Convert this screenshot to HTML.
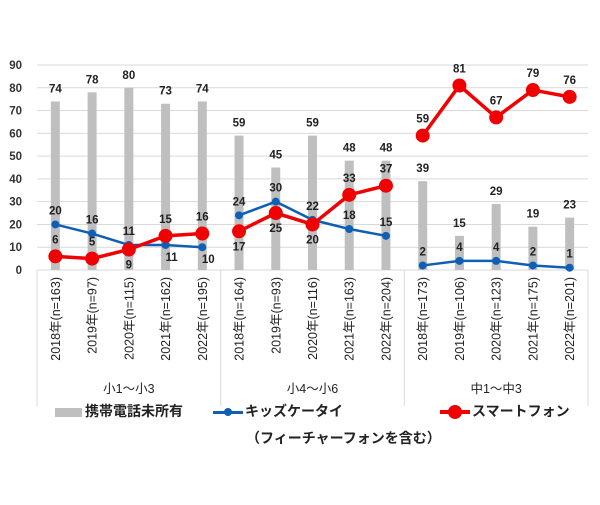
<!DOCTYPE html>
<html><head><meta charset="utf-8"><style>
body{margin:0;background:#fff;}
text{font-family:"Liberation Sans","Noto Sans CJK JP",sans-serif;}
</style></head><body>
<svg id="c" width="600" height="500"></svg>
<script>
const cats=["2018年(n=163)","2019年(n=97)","2020年(n=115)","2021年(n=162)","2022年(n=195)","2018年(n=164)","2019年(n=93)","2020年(n=116)","2021年(n=163)","2022年(n=204)","2018年(n=173)","2019年(n=106)","2020年(n=123)","2021年(n=175)","2022年(n=201)"];
const groups=["小1～小3","小4～小6","中1～中3"];
const noPhone=[74,78,80,73,74,59,45,59,48,48,39,15,29,19,23];
const kids=[20,16,11,11,10,24,30,22,18,15,2,4,4,2,1];
const smart=[6,5,9,15,16,17,25,20,33,37,59,81,67,79,76];
const kidsBelow=[0,0,0,1,1,0,0,0,0,0,0,0,0,0,0];
const smartBelow=[0,0,1,0,0,1,1,1,0,0,0,0,0,0,0];
const yTicks=[0,10,20,30,40,50,60,70,80,90];
const NS="http://www.w3.org/2000/svg";
const svg=document.getElementById('c');
const L=37,R=588,T=65,B=270;
const bw=(R-L)/cats.length;
const x=i=>L+bw*(i+0.5);
const y=v=>B-(v/90)*(B-T);
function mk(t,a,p){const e=document.createElementNS(NS,t);for(const k in a)e.setAttribute(k,a[k]);(p||svg).appendChild(e);return e;}
function tx(s,a){const e=mk('text',a);e.textContent=s;return e;}
yTicks.forEach(v=>{
 const g=mk('line',{x1:L,x2:R,y1:y(v),y2:y(v),stroke:'#d9d9d9','stroke-width':1});
 
 
 const t=tx(v,{x:22,y:y(v)+4,'text-anchor':'end','font-size':11.5,'font-weight':'bold',fill:'#333'});
 
 
});
[0,5,10,15].forEach(k=>{const xx=L+bw*k;const l=mk('line',{x1:xx,x2:xx,y1:B,y2:406,stroke:'#d9d9d9'});
 
 });
mk('line',{x1:L,x2:R,y1:B,y2:B,stroke:'#d9d9d9'});
noPhone.forEach((v,i)=>{
 const r=mk('rect',{x:x(i)-4.5,y:y(v),width:9,height:B-y(v),fill:'#bfbfbf'});
 
 
 const t=tx(v,{x:x(i),y:y(v)-9,'text-anchor':'middle','font-size':11.5,'font-weight':'bold',fill:'#222'});
 
 
});
function series(vals,below,color,lw,r,name){
 for(let g=0;g<3;g++){
  const pts=[];for(let i=g*5;i<g*5+5;i++)pts.push(x(i)+','+y(vals[i]));
  const p=mk('polyline',{points:pts.join(' '),fill:'none',stroke:color,'stroke-width':lw});
  
  
 }
 vals.forEach((v,i)=>{
  const c=mk('circle',{cx:x(i),cy:y(v),r:r,fill:color});
  
  
  const dy=below[i]?r+12:-(r+6);
  const t=tx(v,{x:x(i)+(below[i]&&name==='kids'?6:0),y:y(v)+dy,'text-anchor':'middle','font-size':11.5,'font-weight':'bold',fill:'#222'});
  
  
 });
}
series(kids,kidsBelow,'#0f5fb5',2.5,4,'kids');
series(smart,smartBelow,'#f00000',3.5,7,'smart');
cats.forEach((c,i)=>{
 const t=tx(c,{x:0,y:0,'text-anchor':'end','font-size':12.5,fill:'#222',transform:`translate(${x(i)+4.5},${277}) rotate(-90)`});
 
 
});
groups.forEach((g,k)=>{
 const t=tx(g,{x:L+bw*(k*5+2.5),y:393,'text-anchor':'middle','font-size':12.5,fill:'#222'});
 
 
});
</script>
<div style="position:absolute;left:0;top:0;width:600px;height:500px;pointer-events:none;font-family:'Liberation Sans','Noto Sans CJK JP',sans-serif;font-weight:bold;font-size:14px;color:#222;">
 <div style="position:absolute;left:55px;top:401px;"><span style="display:inline-block;width:27px;height:9px;background:#bfbfbf;vertical-align:middle;margin-right:3px"></span>携帯電話未所有</div>
 <div style="position:absolute;left:213px;top:401px;"><span style="display:inline-block;position:relative;width:30px;height:3px;background:#0f5fb5;vertical-align:middle;margin-right:2px"><span style="position:absolute;left:11px;top:-3px;width:8px;height:8px;border-radius:50%;background:#0f5fb5"></span></span>キッズケータイ</div>
 <div style="position:absolute;left:246px;top:428px;">（フィーチャーフォンを含む）</div>
 <div style="position:absolute;left:440px;top:401px;"><span style="display:inline-block;position:relative;width:30px;height:4px;background:#f00000;vertical-align:middle;margin-right:2px"><span style="position:absolute;left:8px;top:-5px;width:14px;height:14px;border-radius:50%;background:#f00000"></span></span>スマートフォン</div>
</div>
</body></html>
